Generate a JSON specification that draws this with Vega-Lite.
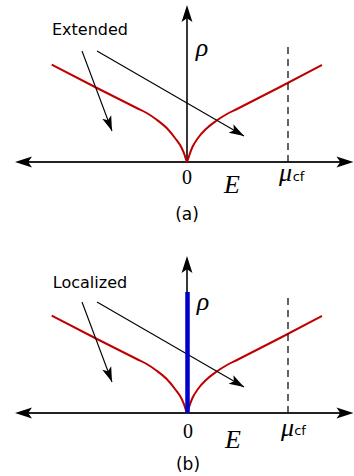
{
  "$schema": "https://vega.github.io/schema/vega-lite/v6.json",
  "padding": 0,
  "spacing": 0,
  "config": {"view": {"stroke": null}},
  "resolve": {"scale": {"x": "independent", "y": "independent"}},
  "datasets": {
    "axes": [
      {"E": -1.6, "E2": 1.55, "rho": 0, "rho2": 0},
      {"E": 0, "E2": 0, "rho": 0, "rho2": 1.45}
    ],
    "curve": [
      {"branch": "left", "E": -1.353, "rho": 0.973},
      {"branch": "left", "E": -0.92, "rho": 0.75},
      {"branch": "left", "E": -0.503, "rho": 0.54},
      {"branch": "left", "E": -0.403, "rho": 0.49},
      {"branch": "left", "E": -0.303, "rho": 0.423},
      {"branch": "left", "E": -0.203, "rho": 0.34},
      {"branch": "left", "E": -0.12, "rho": 0.24},
      {"branch": "left", "E": -0.053, "rho": 0.14},
      {"branch": "left", "E": -0.025, "rho": 0.073},
      {"branch": "left", "E": -0.008, "rho": 0.02},
      {"branch": "left", "E": 0, "rho": 0},
      {"branch": "right", "E": 0, "rho": 0},
      {"branch": "right", "E": 0.008, "rho": 0.02},
      {"branch": "right", "E": 0.025, "rho": 0.073},
      {"branch": "right", "E": 0.05, "rho": 0.14},
      {"branch": "right", "E": 0.11, "rho": 0.24},
      {"branch": "right", "E": 0.19, "rho": 0.33},
      {"branch": "right", "E": 0.29, "rho": 0.41},
      {"branch": "right", "E": 0.40, "rho": 0.48},
      {"branch": "right", "E": 0.50, "rho": 0.53},
      {"branch": "right", "E": 0.93, "rho": 0.75},
      {"branch": "right", "E": 1.35, "rho": 0.97}
    ],
    "dash": [{"E": 1.01, "E2": 1.01, "rho": 0, "rho2": 1.19}],
    "shafts": [
      {"E": -1.05, "rho": 1.11, "E2": -0.75, "rho2": 0.31},
      {"E": -0.90, "rho": 1.11, "E2": 0.57, "rho2": 0.26}
    ],
    "heads": [
      {"kind": "axis", "E": -1.72, "rho": 0, "angle": 270},
      {"kind": "axis", "E": 1.665, "rho": 0, "angle": 90},
      {"kind": "axis", "E": 0, "rho": 1.57, "angle": 0},
      {"kind": "arrow", "E": -0.75, "rho": 0.31, "angle": 159.4},
      {"kind": "arrow", "E": 0.57, "rho": 0.26, "angle": 120}
    ],
    "blue": [{"E": 0.005, "E2": 0.005, "rho": 0, "rho2": 1.21}],
    "labels": [
      {"panel": "a", "text": "0", "E": 0, "rho": -0.155},
      {"panel": "a", "text": "E", "E": 0.45, "rho": -0.23},
      {"panel": "a", "text": "μ", "E": 0.985, "rho": -0.11},
      {"panel": "a", "text": "cf", "E": 1.115, "rho": -0.15},
      {"panel": "a", "text": "ρ", "E": 0.15, "rho": 1.14},
      {"panel": "a", "text": "Extended", "E": -0.97, "rho": 1.32},
      {"panel": "a", "text": "(a)", "E": 0, "rho": -0.53},
      {"panel": "b", "text": "0", "E": 0.01, "rho": -0.19},
      {"panel": "b", "text": "E", "E": 0.46, "rho": -0.27},
      {"panel": "b", "text": "μ", "E": 1.005, "rho": -0.15},
      {"panel": "b", "text": "cf", "E": 1.13, "rho": -0.18},
      {"panel": "b", "text": "ρ", "E": 0.16, "rho": 1.11},
      {"panel": "b", "text": "Localized", "E": -0.97, "rho": 1.30},
      {"panel": "b", "text": "(b)", "E": 0.01, "rho": -0.52}
    ]
  },
  "vconcat": [
    {
      "width": 354,
      "height": 251,
      "encoding": {
        "x": {"field": "E", "type": "quantitative", "axis": null, "scale": {"domain": [-1.87, 1.67], "nice": false, "zero": false}},
        "y": {"field": "rho", "type": "quantitative", "axis": null, "scale": {"domain": [-0.89, 1.62], "nice": false, "zero": false}}
      },
      "layer": [
        {"data": {"name": "axes"}, "mark": {"type": "rule", "color": "#222", "strokeWidth": 1.8}, "encoding": {"x2": {"field": "E2"}, "y2": {"field": "rho2"}}},
        {"data": {"name": "curve"}, "mark": {"type": "line", "color": "#c00000", "strokeWidth": 2, "interpolate": "monotone"}, "encoding": {"detail": {"field": "branch"}}},
        {"data": {"name": "dash"}, "mark": {"type": "rule", "color": "#111", "strokeWidth": 1.3, "strokeDash": [7, 5]}, "encoding": {"x2": {"field": "E2"}, "y2": {"field": "rho2"}}},
        {"data": {"name": "shafts"}, "mark": {"type": "rule", "color": "#000", "strokeWidth": 1.1}, "encoding": {"x2": {"field": "E2"}, "y2": {"field": "rho2"}}},
        {"data": {"name": "heads"}, "transform": [{"filter": "datum.kind == 'axis'"}], "mark": {"type": "point", "filled": true, "color": "#000", "opacity": 1, "size": 240, "shape": "M0,0L0.7,2.2L0,1.7L-0.7,2.2Z"}, "encoding": {"angle": {"field": "angle", "type": "quantitative", "scale": null}}},
        {"data": {"name": "heads"}, "transform": [{"filter": "datum.kind == 'arrow'"}], "mark": {"type": "point", "filled": true, "color": "#000", "opacity": 1, "size": 186, "shape": "M0,0L0.7,2.2L0,1.7L-0.7,2.2Z"}, "encoding": {"angle": {"field": "angle", "type": "quantitative", "scale": null}}},
        {"data": {"name": "labels"}, "transform": [{"filter": "datum.panel == 'a' && datum.text == 'E'"}], "mark": {"type": "text", "font": "Liberation Serif", "fontStyle": "italic", "fontSize": 26, "color": "#000"}, "encoding": {"text": {"field": "text"}}},
        {"data": {"name": "labels"}, "transform": [{"filter": "datum.panel == 'a' && (datum.text == 'ρ' || datum.text == 'μ')"}], "mark": {"type": "text", "font": "Liberation Serif", "fontStyle": "italic", "fontSize": 26, "color": "#000"}, "encoding": {"text": {"field": "text"}}},
        {"data": {"name": "labels"}, "transform": [{"filter": "datum.panel == 'a' && datum.text == '0'"}], "mark": {"type": "text", "font": "Liberation Serif", "fontSize": 20, "color": "#000"}, "encoding": {"text": {"field": "text"}}},
        {"data": {"name": "labels"}, "transform": [{"filter": "datum.panel == 'a' && datum.text == 'cf'"}], "mark": {"type": "text", "font": "DejaVu Sans", "fontSize": 13, "color": "#000"}, "encoding": {"text": {"field": "text"}}},
        {"data": {"name": "labels"}, "transform": [{"filter": "datum.panel == 'a' && datum.text == 'Extended'"}], "mark": {"type": "text", "font": "DejaVu Sans", "fontSize": 16, "color": "#000"}, "encoding": {"text": {"field": "text"}}},
        {"data": {"name": "labels"}, "transform": [{"filter": "datum.panel == 'a' && datum.text == '(a)'"}], "mark": {"type": "text", "font": "DejaVu Sans", "fontSize": 17, "color": "#000"}, "encoding": {"text": {"field": "text"}}}
      ]
    },
    {
      "width": 354,
      "height": 225,
      "encoding": {
        "x": {"field": "E", "type": "quantitative", "axis": null, "scale": {"domain": [-1.87, 1.67], "nice": false, "zero": false}},
        "y": {"field": "rho", "type": "quantitative", "axis": null, "scale": {"domain": [-0.63, 1.62], "nice": false, "zero": false}}
      },
      "layer": [
        {"data": {"name": "axes"}, "mark": {"type": "rule", "color": "#222", "strokeWidth": 1.8}, "encoding": {"x2": {"field": "E2"}, "y2": {"field": "rho2"}}},
        {"data": {"name": "curve"}, "mark": {"type": "line", "color": "#c00000", "strokeWidth": 2, "interpolate": "monotone"}, "encoding": {"detail": {"field": "branch"}}},
        {"data": {"name": "dash"}, "mark": {"type": "rule", "color": "#111", "strokeWidth": 1.3, "strokeDash": [7, 5]}, "encoding": {"x2": {"field": "E2"}, "y2": {"field": "rho2"}}},
        {"data": {"name": "shafts"}, "mark": {"type": "rule", "color": "#000", "strokeWidth": 1.1}, "encoding": {"x2": {"field": "E2"}, "y2": {"field": "rho2"}}},
        {"data": {"name": "heads"}, "transform": [{"filter": "datum.kind == 'axis'"}], "mark": {"type": "point", "filled": true, "color": "#000", "opacity": 1, "size": 240, "shape": "M0,0L0.7,2.2L0,1.7L-0.7,2.2Z"}, "encoding": {"angle": {"field": "angle", "type": "quantitative", "scale": null}}},
        {"data": {"name": "heads"}, "transform": [{"filter": "datum.kind == 'arrow'"}], "mark": {"type": "point", "filled": true, "color": "#000", "opacity": 1, "size": 186, "shape": "M0,0L0.7,2.2L0,1.7L-0.7,2.2Z"}, "encoding": {"angle": {"field": "angle", "type": "quantitative", "scale": null}}},
        {"data": {"name": "blue"}, "mark": {"type": "rule", "color": "#0000cc", "strokeWidth": 4.5}, "encoding": {"x2": {"field": "E2"}, "y2": {"field": "rho2"}}},
        {"data": {"name": "labels"}, "transform": [{"filter": "datum.panel == 'b' && datum.text == 'E'"}], "mark": {"type": "text", "font": "Liberation Serif", "fontStyle": "italic", "fontSize": 26, "color": "#000"}, "encoding": {"text": {"field": "text"}}},
        {"data": {"name": "labels"}, "transform": [{"filter": "datum.panel == 'b' && (datum.text == 'ρ' || datum.text == 'μ')"}], "mark": {"type": "text", "font": "Liberation Serif", "fontStyle": "italic", "fontSize": 26, "color": "#000"}, "encoding": {"text": {"field": "text"}}},
        {"data": {"name": "labels"}, "transform": [{"filter": "datum.panel == 'b' && datum.text == '0'"}], "mark": {"type": "text", "font": "Liberation Serif", "fontSize": 20, "color": "#000"}, "encoding": {"text": {"field": "text"}}},
        {"data": {"name": "labels"}, "transform": [{"filter": "datum.panel == 'b' && datum.text == 'cf'"}], "mark": {"type": "text", "font": "DejaVu Sans", "fontSize": 13, "color": "#000"}, "encoding": {"text": {"field": "text"}}},
        {"data": {"name": "labels"}, "transform": [{"filter": "datum.panel == 'b' && datum.text == 'Localized'"}], "mark": {"type": "text", "font": "DejaVu Sans", "fontSize": 16, "color": "#000"}, "encoding": {"text": {"field": "text"}}},
        {"data": {"name": "labels"}, "transform": [{"filter": "datum.panel == 'b' && datum.text == '(b)'"}], "mark": {"type": "text", "font": "DejaVu Sans", "fontSize": 17, "color": "#000"}, "encoding": {"text": {"field": "text"}}}
      ]
    }
  ]
}
